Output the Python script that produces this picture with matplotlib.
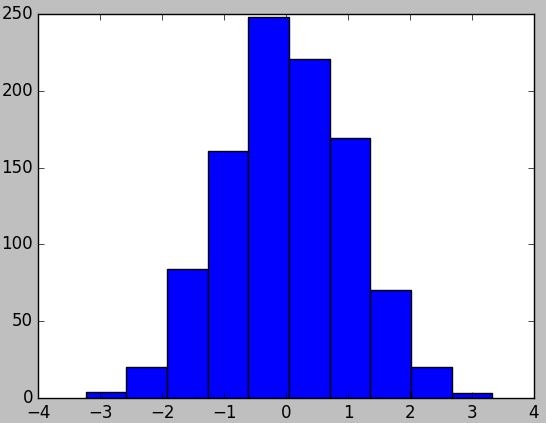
import numpy as np
import matplotlib
matplotlib.use("Agg")
import matplotlib.pyplot as plt

plt.style.use("classic")

# histogram counts
counts = [4, 20, 84, 161, 248, 221, 169, 70, 20, 3]
lo, hi = -3.24, 3.33
edges = np.linspace(lo, hi, len(counts) + 1)
centers = (edges[:-1] + edges[1:]) / 2

fig = plt.figure(figsize=(5.46, 4.23), dpi=100, facecolor="0.75")
fig.subplots_adjust(left=0.0705, right=0.978, bottom=0.059, top=0.967)
ax = fig.add_subplot(111)
ax.hist(centers, bins=edges, weights=counts, color="b", edgecolor="k")
ax.set_xlim(-4, 4)
ax.set_ylim(0, 250)

fig.savefig("out.png", dpi=100, facecolor=fig.get_facecolor())
